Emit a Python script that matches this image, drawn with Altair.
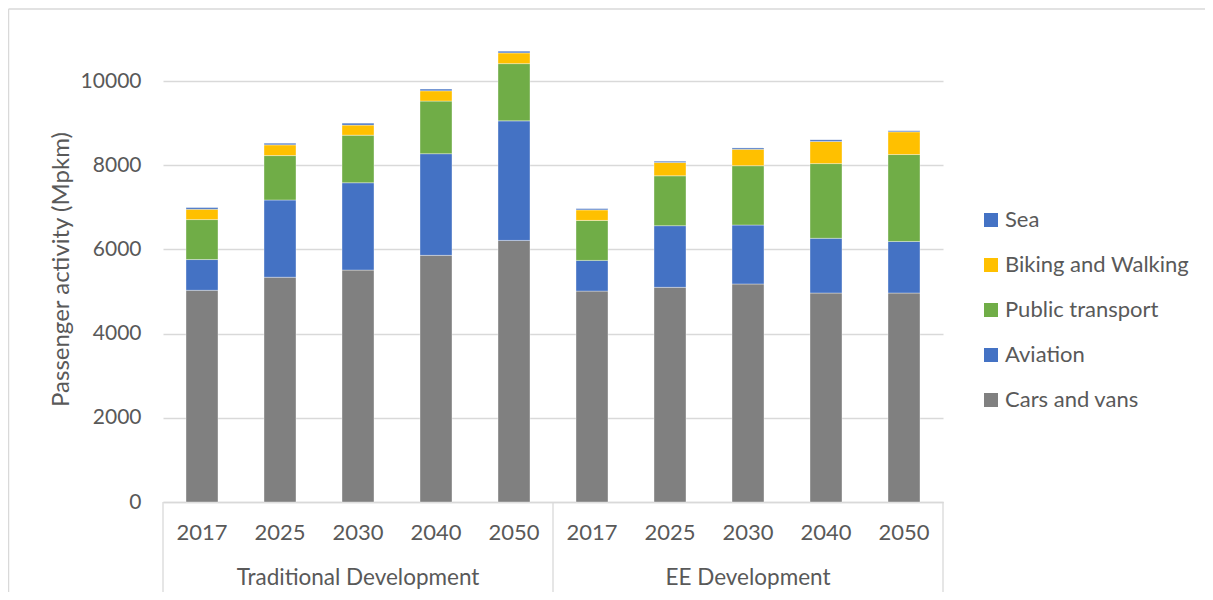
import altair as alt
import pandas as pd

groups = ["Traditional Development"] * 5 + ["EE Development"] * 5
years = ["2017", "2025", "2030", "2040", "2050"] * 2
cars = [5030, 5340, 5510, 5860, 6215, 5010, 5100, 5180, 4965, 4965]
aviation = [730, 1835, 2075, 2415, 2840, 730, 1465, 1400, 1300, 1225]
public_transport = [950, 1055, 1130, 1250, 1360, 950, 1185, 1410, 1775, 2065]
biking = [245, 255, 240, 245, 255, 250, 315, 390, 525, 540]
sea = [40, 40, 45, 40, 40, 30, 32, 32, 40, 25]

series_names = ["Cars and vans", "Aviation", "Public transport", "Biking and Walking", "Sea"]
series_values = [cars, aviation, public_transport, biking, sea]
series_colors = ["#808080", "#4472C4", "#70AD47", "#FFC000", "#4472C4"]

FONT = "Lato"
TXT = "#595959"
GRID = "#d9d9d9"

keys = [g + "|" + y for g, y in zip(groups, years)]
rows = []
for si, (name, vals) in enumerate(zip(series_names, series_values)):
    for k, v in zip(keys, vals):
        rows.append({"key": k, "series": name, "value": v, "order": si})
df = pd.DataFrame(rows)

xscale = alt.Scale(domain=keys, paddingInner=0, paddingOuter=0)
legend_domain = series_names[::-1]
legend_range = series_colors[::-1]

bars = alt.Chart(df).mark_bar(
    width=alt.RelativeBandSize(0.41), stroke="white", strokeWidth=0.8, strokeOpacity=0.45
).encode(
    x=alt.X("key:N", scale=xscale, title=None,
            axis=alt.Axis(labelExpr="split(datum.label, '|')[1]", labelAngle=0,
                          ticks=False, grid=False, domainColor=GRID, domainWidth=1.3,
                          labelFont=FONT, labelFontSize=22, labelColor=TXT,
                          labelPadding=30, labelBaseline="middle")),
    y=alt.Y("value:Q", stack="zero", scale=alt.Scale(domain=[0, 11000], nice=False),
            title="Passenger activity (Mpkm)",
            axis=alt.Axis(values=[0, 2000, 4000, 6000, 8000, 10000], format="d",
                          domain=False, ticks=False, grid=True, gridColor=GRID,
                          gridWidth=1.3, labelFont=FONT, labelFontSize=21,
                          labelColor=TXT, labelPadding=22, titleFont=FONT,
                          titleFontSize=24, titleColor=TXT, titleFontWeight="normal",
                          titleX=-102, titleY=230, titleAlign="center",
                          titleBaseline="middle", titleAngle=-90)),
    color=alt.Color("series:N", scale=alt.Scale(domain=legend_domain, range=legend_range),
                    legend=alt.Legend(title=None, orient="none", legendX=817, legendY=170,
                                      symbolType="square", symbolSize=196,
                                      symbolStrokeWidth=0, labelFont=FONT,
                                      labelFontSize=22, labelColor=TXT, labelLimit=0,
                                      rowPadding=23, labelOffset=3)),
    order=alt.Order("order:Q", sort="ascending"),
)

sep_df = pd.DataFrame({"key": [keys[0], keys[5]]})
sep_end_df = pd.DataFrame({"key": [keys[-1]]})
seps = alt.Chart(sep_df).mark_rule(color=GRID, strokeWidth=1.3).encode(
    x=alt.X("key:N", scale=xscale, bandPosition=0),
    y=alt.value(463), y2=alt.value(555),
)
seps_end = alt.Chart(sep_end_df).mark_rule(color=GRID, strokeWidth=1.3).encode(
    x=alt.X("key:N", scale=xscale, bandPosition=1),
    y=alt.value(463), y2=alt.value(555),
)

grp_df = pd.DataFrame({"key": [keys[2], keys[7]], "label": [groups[0], groups[5]]})
grp_text = alt.Chart(grp_df).mark_text(
    font=FONT, fontSize=22.5, color=TXT, baseline="middle", align="center"
).encode(
    x=alt.X("key:N", scale=xscale),
    y=alt.value(539),
    text="label:N",
)

one = pd.DataFrame({"a": [0]})
border_top = alt.Chart(one).mark_rule(color=GRID, strokeWidth=1.5).encode(
    x=alt.value(-154.5), x2=alt.value(1080), y=alt.value(-30)
)
border_left = alt.Chart(one).mark_rule(color=GRID, strokeWidth=1.5).encode(
    x=alt.value(-154.5), y=alt.value(-30), y2=alt.value(600)
)

chart = alt.layer(bars, seps, seps_end, grp_text, border_top, border_left).properties(
    width=780, height=463,
    autosize=alt.AutoSizeParams(type="none"),
    padding={"left": 155, "top": 31, "right": 262, "bottom": 90},
).configure_view(stroke=None)

chart.save("out.html", embed_options={"renderer": "svg", "actions": False})
